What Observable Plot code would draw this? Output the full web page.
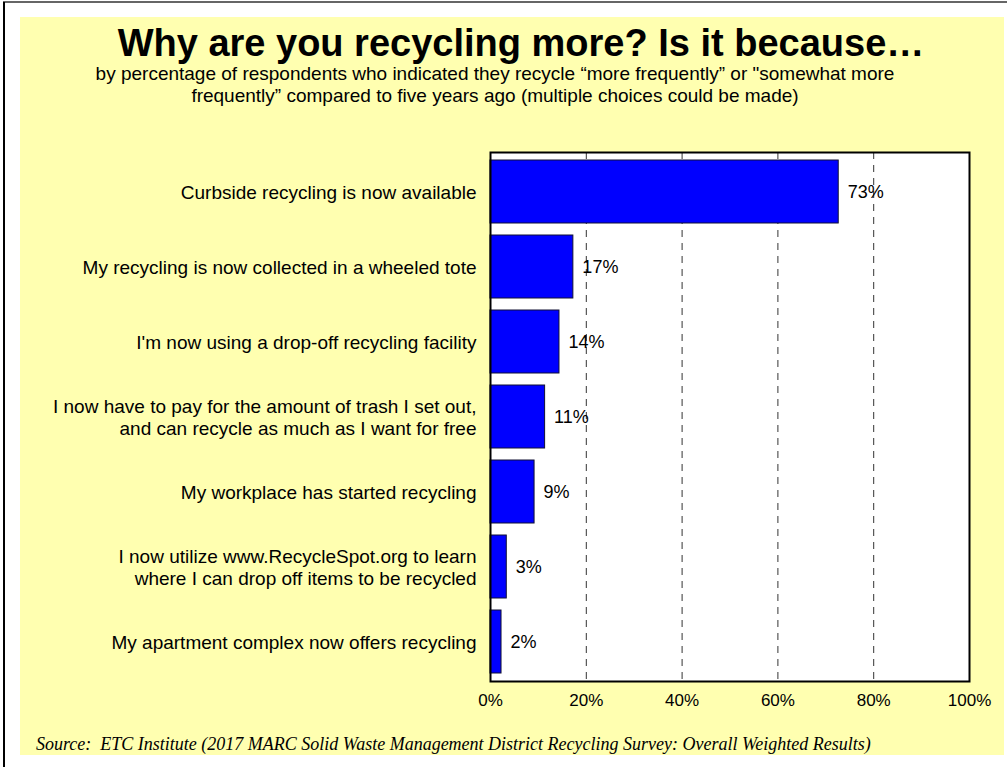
<!DOCTYPE html>
<html>
<head>
<meta charset="utf-8">
<script src="https://cdn.jsdelivr.net/npm/d3@7"></script>
<script src="https://cdn.jsdelivr.net/npm/@observablehq/plot@0.6"></script>
<style>
  html, body { margin: 0; padding: 0; background: #ffffff; }
  #page { position: relative; width: 1007px; height: 767px; overflow: hidden; background: #ffffff; }
  #frameTop { position: absolute; left: 3px; top: 1px; width: 1004px; height: 2px; background: #666; }
  #frameLeft { position: absolute; left: 3px; top: 2px; width: 2px; height: 765px; background: #000; }
  #yellow { position: absolute; left: 20px; top: 17px; width: 984px; height: 738px; background: #FFFFB0; }
  #title { position: absolute; left: 20px; top: 22px; width: 1002px; text-align: center;
           font-family: "Liberation Sans", Arial, sans-serif; font-weight: bold; font-size: 38px; color: #000; }
  #subtitle { position: absolute; left: 20px; top: 63px; width: 950px; text-align: center;
           font-family: "Liberation Sans", Arial, sans-serif; font-size: 19px; line-height: 22px; color: #000; }
  #source { position: absolute; left: 36px; top: 734px;
           font-family: "Liberation Serif", "Times New Roman", serif; font-style: italic; font-size: 18px; color: #000; white-space: pre; }
  #chart { position: absolute; left: 0; top: 0; }
</style>
</head>
<body>
<div id="page">
  <div id="frameTop"></div>
  <div id="frameLeft"></div>
  <div id="yellow"></div>
  <div id="title">Why are you recycling more? Is it because…</div>
  <div id="subtitle">by percentage of respondents who indicated they recycle “more frequently” or "somewhat more<br>frequently” compared to five years ago (multiple choices could be made)</div>
  <div id="source">Source:  ETC Institute (2017 MARC Solid Waste Management District Recycling Survey: Overall Weighted Results)</div>
  <div id="chart"></div>
</div>
<script>
// Data
const categories = [
  "Curbside recycling is now available",
  "My recycling is now collected in a wheeled tote",
  "I'm now using a drop-off recycling facility",
  "I now have to pay for the amount of trash I set out,\nand can recycle as much as I want for free",
  "My workplace has started recycling",
  "I now utilize www.RecycleSpot.org to learn\nwhere I can drop off items to be recycled",
  "My apartment complex now offers recycling"
];
const values = [72.7, 17.3, 14.4, 11.4, 9.2, 3.4, 2.3];
const valueLabels = ["73%", "17%", "14%", "11%", "9%", "3%", "2%"];
const xTicks = [0, 20, 40, 60, 80, 100];
const gridTicks = [20, 40, 60, 80];

const data = categories.map((c, i) => ({category: c, value: values[i], label: valueLabels[i]}));

const chart = Plot.plot({
  width: 1007,
  height: 767,
  marginLeft: 490,
  marginRight: 38,
  marginTop: 152,
  marginBottom: 86,
  style: {background: "transparent", fontFamily: "'Liberation Sans', Arial, sans-serif", fontSize: "18px", color: "#000"},
  x: {domain: [0, 100]},
  y: {domain: categories, paddingInner: 0.155, paddingOuter: 0.078},
  marks: [
    Plot.frame({fill: "white"}),
    Plot.ruleX(gridTicks, {stroke: "#333", strokeWidth: 1, strokeDasharray: "7,6"}),
    Plot.barX(data, {x: "value", y: "category", fill: "#0000FF", stroke: "#111133", strokeWidth: 1}),
    Plot.text(data, {x: "value", y: "category", text: "label", dx: 9, textAnchor: "start", fontSize: 18, fill: "#000"}),
    Plot.axisY({tickSize: 0, tickPadding: 14, label: null, fontSize: 19, lineHeight: 1.16}),
    Plot.axisX({ticks: xTicks, tickFormat: d => d + "%", tickSize: 0, tickPadding: 12, label: null, fontSize: 17}),
    Plot.frame({stroke: "#000", strokeWidth: 2})
  ]
});
document.getElementById("chart").appendChild(chart);
</script>
</body>
</html>
